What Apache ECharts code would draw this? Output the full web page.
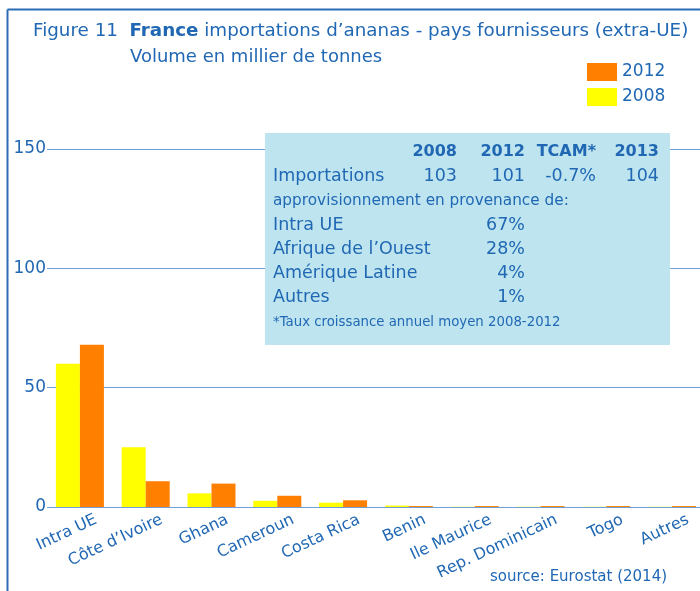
<!DOCTYPE html>
<html>
<head>
<meta charset="utf-8">
<script src="https://cdn.jsdelivr.net/npm/echarts@6/dist/echarts.min.js"></script>
<style>
  html, body { margin: 0; padding: 0; background: #fff; }
  #chart { width: 700px; height: 591px; }
</style>
</head>
<body>
<div id="chart"></div>
<script>
const categories = ['Intra UE', 'Côte d\u2019Ivoire', 'Ghana', 'Cameroun', 'Costa Rica', 'Benin', 'Ile Maurice', 'Rep. Dominicain', 'Togo', 'Autres'];
const values2008 = [60, 25, 5.7, 2.6, 1.8, 0.6, 0.1, 0.1, 0.1, 0.1];
const values2012 = [68, 10.8, 9.8, 4.7, 2.8, 0.4, 0.4, 0.4, 0.4, 0.4];
const yTicks = [0, 50, 100, 150];

// encadré
const tableHead = ['2008', '2012', 'TCAM*', '2013'];
const tableImport = ['103', '101', '-0.7%', '104'];
const originNames = ['Intra UE', 'Afrique de l\u2019Ouest', 'Amérique Latine', 'Autres'];
const originShares = ['67%', '28%', '4%', '1%'];

const blue = '#2168b4';
const font = 'DejaVu Sans';

const colX = [457, 525, 596, 659];
const rowY = [225, 249, 273, 297];

const txt = (x, y, text, size, opts) => ({
  type: 'text', x: x, y: y, z: 20,
  style: Object.assign({ text: text, fill: blue, fontSize: size, fontFamily: font, verticalAlign: 'middle' }, opts || {})
});

const tableTexts = [];
tableHead.forEach((t, i) => {
  tableTexts.push(txt(colX[i], 152, t, 16, { align: 'right', fontWeight: 'bold' }));
  tableTexts.push(txt(colX[i], 176, tableImport[i], 17.5, { align: 'right' }));
});
tableTexts.push(txt(273, 176, 'Importations', 17.5));
tableTexts.push(txt(273, 201, 'approvisionnement en provenance de:', 15.3));
originNames.forEach((n, i) => {
  tableTexts.push(txt(273, rowY[i], n, 17.5));
  tableTexts.push(txt(525, rowY[i], originShares[i], 17.5, { align: 'right' }));
});
tableTexts.push(txt(273, 323, '*Taux croissance annuel moyen 2008-2012', 13.3));

const chart = echarts.init(document.getElementById('chart'));
chart.setOption({
  animation: false,
  textStyle: { fontFamily: font },
  title: [
    {
      text: 'Figure 11  {b|France} importations d\u2019ananas - pays fournisseurs (extra-UE)',
      left: 28, top: 17,
      textStyle: { color: blue, fontSize: 18.3, fontWeight: 'normal', fontFamily: font,
        rich: { b: { color: blue, fontSize: 18.3, fontWeight: 'bold', fontFamily: font } } }
    },
    {
      text: 'Volume en millier de tonnes',
      left: 125, top: 43,
      textStyle: { color: blue, fontSize: 18, fontWeight: 'normal', fontFamily: font }
    },
    {
      text: 'source: Eurostat (2014)',
      left: 485, top: 565,
      textStyle: { color: blue, fontSize: 15, fontWeight: 'normal', fontFamily: font }
    }
  ],
  legend: {
    orient: 'vertical',
    left: 582, top: 58,
    itemWidth: 30, itemHeight: 18, itemGap: 7,
    icon: 'rect',
    data: ['2012', '2008'],
    textStyle: { color: blue, fontSize: 17, fontFamily: font }
  },
  grid: [
    { left: 47, width: 658, top: 149, bottom: 84, containLabel: false, outerBoundsMode: 'none' },
    { left: 63, width: 658, top: 149, bottom: 84, containLabel: false, outerBoundsMode: 'none' }
  ],
  xAxis: [
    {
      type: 'category', gridIndex: 0,
      data: categories,
      axisLine: { show: false },
      axisTick: { show: false },
      axisLabel: { show: false }
    },
    {
      type: 'category', gridIndex: 1,
      data: categories,
      axisLine: { show: false },
      axisTick: { show: false },
      axisLabel: { color: blue, fontSize: 16, fontFamily: font, rotate: 25, margin: 12, interval: 0 }
    }
  ],
  yAxis: [
    {
      type: 'value', gridIndex: 0,
      min: yTicks[0], max: yTicks[yTicks.length - 1], interval: 50,
      axisLine: { show: false },
      axisTick: { show: false },
      axisLabel: { color: blue, fontSize: 17, fontFamily: font, margin: 1 },
      splitLine: { lineStyle: { color: '#6f9fd8', width: 1 } }
    },
    {
      type: 'value', gridIndex: 1,
      min: yTicks[0], max: yTicks[yTicks.length - 1], interval: 50,
      show: false
    }
  ],
  series: [
    { name: '2008', type: 'bar', data: values2008, barWidth: 24, barGap: '0%', itemStyle: { color: '#ffff00' } },
    { name: '2012', type: 'bar', data: values2012, barWidth: 24, barGap: '0%', itemStyle: { color: '#ff7f00' } }
  ],
  graphic: [
    { type: 'line', shape: { x1: 7.5, y1: 9.5, x2: 700, y2: 9.5 }, style: { stroke: '#2c6cb6', lineWidth: 2 } },
    { type: 'line', shape: { x1: 7.5, y1: 9.5, x2: 7.5, y2: 591 }, style: { stroke: '#2c6cb6', lineWidth: 2 } },
    { type: 'rect', shape: { x: 265, y: 133, width: 405, height: 212 }, style: { fill: '#bee5ef' }, z: 10 }
  ].concat(tableTexts)
});
</script>
</body>
</html>
